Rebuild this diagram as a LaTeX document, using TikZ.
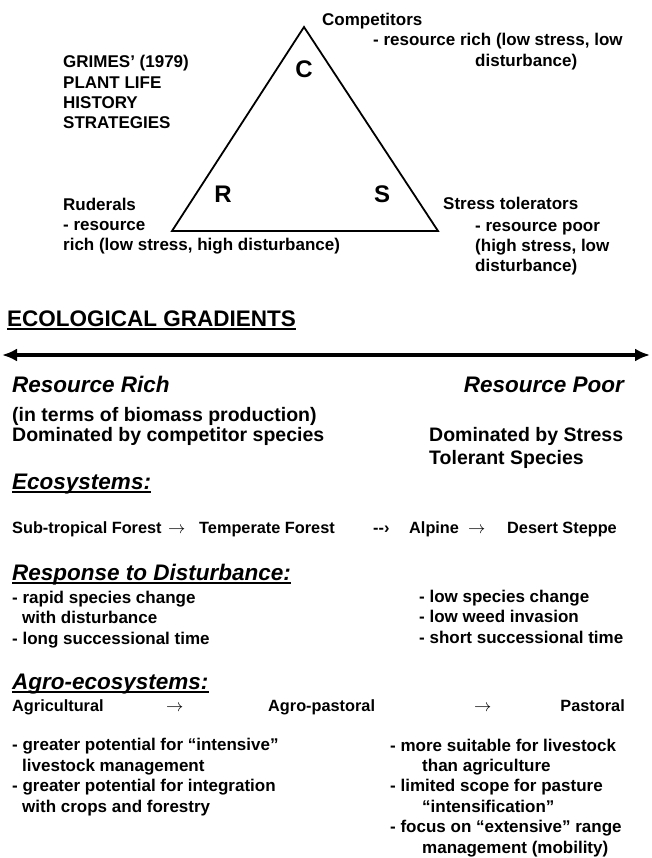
\documentclass[tikz,border=0pt]{standalone}
\usepackage{fontspec}
\setmainfont{Liberation Sans}
\usepackage{tikz}
\usetikzlibrary{arrows.meta}

\tikzset{
  txt/.style={inner sep=0pt, anchor=base west, align=left,
    font=\bfseries\fontsize{17}{20.4}\selectfont},
  mid/.style={txt, font=\bfseries\fontsize{19.5}{23}\selectfont},
  head/.style={txt, font=\bfseries\itshape\fontsize{22.5}{26}\selectfont},
  caps/.style={txt, font=\bfseries\fontsize{22.5}{26}\selectfont},
  eco/.style={txt, font=\bfseries\fontsize{16.3}{19}\selectfont},
  letter/.style={inner sep=0pt, font=\bfseries\fontsize{24}{24}\selectfont},
  uline/.style={line width=1.5pt},
}

\begin{document}
\begin{tikzpicture}[x=1pt, y=-1pt]
  \useasboundingbox (0,0) rectangle (652,858);

  % CSR triangle
  \coordinate (C) at (304,27);
  \coordinate (R) at (172,231);
  \coordinate (S) at (438,231);
  \draw[line width=1.8pt] (C) -- (R) -- (S) -- cycle;
  \node[letter] (cl) at (304,69) {C};
  \node[letter] (rl) at (223,194) {R};
  \node[letter] (sl) at (382,194) {S};

  % multi-line nodes sit on the baseline of their last line
  \node[txt] (grimes) at (63,129) {GRIMES’ (1979)\\PLANT LIFE\\HISTORY\\STRATEGIES};
  \node[txt] (comp) at (322,26) {Competitors};
  \node[txt] (comp1) at (373,46) {- resource rich (low stress, low};
  \node[txt] (comp2) at (475,67) {disturbance)};
  \node[txt] (rud) at (63,251) {Ruderals\\- resource\\rich (low stress, high disturbance)};
  \node[txt] (stol) at (443,210) {Stress tolerators};
  \node[txt] (stol1) at (475,272) {- resource poor\\(high stress, low\\disturbance)};

  % gradient
  \node[caps] (grad) at (7,326) {ECOLOGICAL GRADIENTS};
  \draw[uline] ([yshift=-3pt]grad.base west) -- ([yshift=-3pt]grad.base east);

  \coordinate (gl) at (2,355);
  \coordinate (gr) at (650,355);
  \draw[line width=4pt, {Latex[length=15pt,width=13pt]}-{Latex[length=15pt,width=13pt]}] (gl) -- (gr);

  \node[head] (rich) at (12,392) {Resource Rich};
  \node[head, anchor=base east] (poor) at (624,392) {Resource Poor};
  \node[mid] (biom) at (12,421) {(in terms of biomass production)};
  \node[mid] (domc) at (12,441) {Dominated by competitor species};
  \node[mid] (doms) at (429,464) {Dominated by Stress\\Tolerant Species};

  % ecosystems
  \node[head] (ecos) at (12,489) {Ecosystems:};
  \draw[uline] ([yshift=-3pt]ecos.base west) -- ([yshift=-3pt]ecos.base east);
  \node[eco] (e1) at (12,533) {Sub-tropical Forest};
  \node[eco] (a1) at (168,533) {$\rightarrow$};
  \node[eco] (e2) at (199,533) {Temperate Forest};
  \node[eco] (a2) at (373,533) {-{}-›};
  \node[eco] (e3) at (409,533) {Alpine};
  \node[eco] (a3) at (468,533) {$\rightarrow$};
  \node[eco] (e4) at (507,533) {Desert Steppe};

  % disturbance
  \node[head] (resp) at (12,580) {Response to Disturbance:};
  \draw[uline] ([yshift=-3pt]resp.base west) -- ([yshift=-3pt]resp.base east);
  \node[txt] (respl) at (12,644) {- rapid species change\\\hspace*{10pt}with disturbance\\- long successional time};
  \node[txt] (respr) at (419,643) {- low species change\\- low weed invasion\\- short successional time};

  % agro-ecosystems
  \node[head] (agro) at (12,689) {Agro-ecosystems:};
  \draw[uline] ([yshift=-3pt]agro.base west) -- ([yshift=-3pt]agro.base east);
  \node[eco] (g1) at (12,711) {Agricultural};
  \node[eco] (g2) at (166,711) {$\rightarrow$};
  \node[eco] (g3) at (268,711) {Agro-pastoral};
  \node[eco] (g4) at (474,711) {$\rightarrow$};
  \node[eco, anchor=base east] (g5) at (625,711) {Pastoral};

  \node[txt] (agrl) at (12,812) {- greater potential for “intensive”\\\hspace*{10pt}livestock management\\- greater potential for integration\\\hspace*{10pt}with crops and forestry};
  \node[txt] (agrr) at (390,853) {- more suitable for livestock\\\hspace*{32pt}than agriculture\\- limited scope for pasture\\\hspace*{32pt}“intensification”\\- focus on “extensive” range\\\hspace*{32pt}management (mobility)};
\end{tikzpicture}
\end{document}
